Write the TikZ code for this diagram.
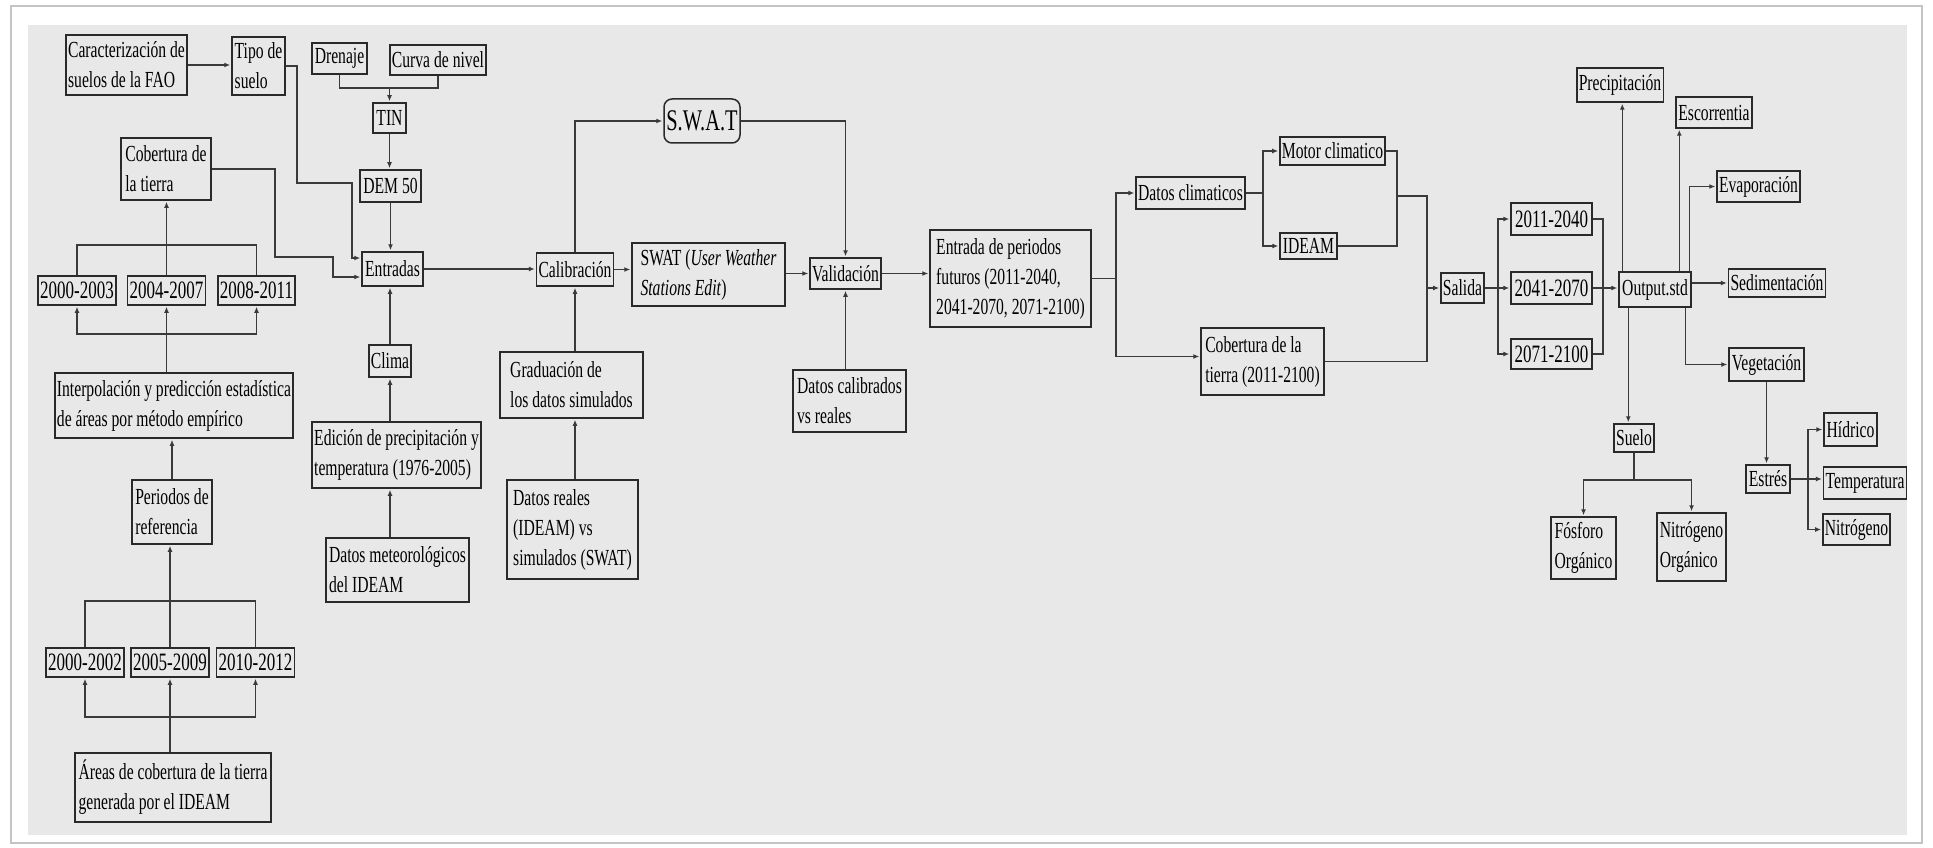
\documentclass[tikz,border=0pt]{standalone}
\usepackage{fontspec}
\setmainfont{Liberation Serif}[FakeStretch=0.68]
\usepackage{tikz}
\usetikzlibrary{arrows.meta,positioning,calc}
\definecolor{panel}{HTML}{E8E8E8}
\definecolor{ink}{HTML}{2A2A2A}
\definecolor{wire}{HTML}{3A3A3A}
\definecolor{rim}{HTML}{C4C4C4}
\tikzset{
  box/.style={draw=ink,line width=1.5pt,inner sep=2pt,align=left,
              font=\fontsize{23}{30}\selectfont},
  yr/.style={box,font=\fontsize{25}{28}\selectfont},
  sz/.style 2 args={minimum width=#1pt,minimum height=#2pt},
  ln/.style={wire,line width=1.2pt},
  arr/.style={ln,-{Latex[length=6pt,width=5pt]},shorten >=1pt}
}

\begin{document}
\begin{tikzpicture}[x=1pt,y=-1pt]
  \useasboundingbox (0,0) rectangle (1933,848);
  \fill[white] (0,0) rectangle (1933,848);
  \draw[rim,line width=1.6pt] (11,6) rectangle (1922,843);
  \fill[panel] (28,25) rectangle (1907,835);

  \node[box,sz={121}{60}] (cara) at (126.5,65) {Caracterización de\\suelos de la FAO};
  \node[box,sz={53}{58}] (tipo) at (258.5,66) {Tipo de\\suelo};
  \node[box,sz={55}{31}] (dren) at (339.5,58.5) {Drenaje};
  \node[box,sz={96}{30}] (curva) at (438,60) {Curva de nivel};
  \node[box,sz={33}{30}] (tin) at (389.5,118) {TIN};
  \node[box,sz={61}{32}] (dem) at (390.5,186) {DEM 50};
  \node[box,sz={61}{34}] (entr) at (392.5,269) {Entradas};
  \node[box,sz={90}{62}] (cobt) at (166,169) {Cobertura de\\la tierra};
  \node[yr,sz={78}{29}] (p1) at (77,290.5) {2000-2003};
  \node[yr,sz={77}{29}] (p2) at (166.5,290.5) {2004-2007};
  \node[yr,sz={77}{29}] (p3) at (256.5,290.5) {2008-2011};
  \node[box,sz={234}{65}] (interp) at (174,405.5) {Interpolación y predicción estadística\\de áreas por método empírico};
  \node[box,sz={80}{64}] (peri) at (172,512) {Periodos de\\referencia};
  \node[yr,sz={76}{29}] (q1) at (85,662.5) {2000-2002};
  \node[yr,sz={76}{29}] (q2) at (170,662.5) {2005-2009};
  \node[yr,sz={77}{29}] (q3) at (255.5,662.5) {2010-2012};
  \node[box,sz={196}{69}] (areas) at (173,787.5) {Áreas de cobertura de la tierra\\generada por el IDEAM};
  \node[box,sz={42}{32}] (clima) at (390,361) {Clima};
  \node[box,sz={169}{66}] (edic) at (396.5,455) {Edición de precipitación y\\temperatura (1976-2005)};
  \node[box,sz={143}{64}] (meteo) at (397.5,570) {Datos meteorológicos\\del IDEAM};

  \node[box,sz={76}{33}] (cal) at (575,269.5) {Calibración};
  \node[box,sz={153}{63}] (swatu) at (708.5,274.5) {SWAT (\textit{User Weather}\\\textit{Stations Edit})};
  \node[box,sz={76}{44},rounded corners=8pt,font=\fontsize{30}{32}\selectfont] (swat) at (702,121) {S.W.A.T};
  \node[box,sz={143}{66}] (grad) at (571.5,385) {Graduación de\\los datos simulados};
  \node[box,sz={131}{99}] (reales) at (572.5,529.5) {Datos reales\\(IDEAM) vs\\simulados (SWAT)};
  \node[box,sz={71}{31}] (valid) at (845.5,273.5) {Validación};
  \node[box,sz={113}{62}] (calib) at (849.5,401) {Datos calibrados\\vs reales};
  \node[box,sz={161}{97}] (fut) at (1010.5,278.5) {Entrada de periodos\\futuros (2011-2040,\\2041-2070, 2071-2100)};
  \node[box,sz={109}{32}] (dclim) at (1190.5,193) {Datos climaticos};
  \node[box,sz={105}{28}] (motor) at (1332.5,151) {Motor climatico};
  \node[box,sz={57}{26}] (ideam) at (1308.5,246) {IDEAM};
  \node[box,sz={123}{67}] (cobf) at (1262.5,361.5) {Cobertura de la\\tierra (2011-2100)};

  \node[box,sz={43}{30}] (sal) at (1462.5,288) {Salida};
  \node[yr,sz={81}{32}] (f1) at (1551.5,219) {2011-2040};
  \node[yr,sz={81}{32}] (f2) at (1551.5,288) {2041-2070};
  \node[yr,sz={81}{30}] (f3) at (1551.5,354) {2071-2100};
  \node[box,sz={72}{35}] (outp) at (1655,289.5) {Output.std};
  \node[box,sz={84}{34}] (prec) at (1620,85) {Precipitación};
  \node[box,sz={76}{31}] (esco) at (1714,112.5) {Escorrentia};
  \node[box,sz={81}{31}] (evap) at (1758.5,186.5) {Evaporación};
  \node[box,sz={94}{28}] (sedi) at (1777,283) {Sedimentación};
  \node[box,sz={75}{33}] (vege) at (1766.5,364.5) {Vegetación};
  \node[box,sz={40}{28}] (suelo) at (1634,438) {Suelo};
  \node[box,sz={65}{62}] (fosf) at (1583.5,548) {Fósforo\\Orgánico};
  \node[box,sz={69}{68}] (nitro) at (1691.5,547) {Nitrógeno\\Orgánico};
  \node[box,sz={44}{28}] (estr) at (1768,479) {Estrés};
  \node[box,sz={53}{33}] (hidr) at (1850.5,429.5) {Hídrico};
  \node[box,sz={82}{32}] (temp) at (1865,483) {Temperatura};
  \node[box,sz={65}{31}] (nitg) at (1856.5,529.5) {Nitrógeno};

  \coordinate (barT) at (389.5,88);
  \coordinate (barA) at (166.5,245);
  \coordinate (barB) at (166.5,334);
  \coordinate (barC) at (170,601);
  \coordinate (barD) at (170,717);
  \draw[arr] (cara.east) -- (cara.east -| tipo.west);
  \draw[arr] (tipo.east) -| (297,183) -| (352,258) -- ([yshift=11pt]entr.west);
  \draw[arr] (cobt.east) -| (275,257) -| (333,277) -- ([yshift=-8pt]entr.west);
  \draw[ln] (dren.south) |- (barT) -| (curva.south);
  \draw[arr] (barT) -- (tin.north);
  \draw[arr] (tin.south) -- (tin.south |- dem.north);
  \draw[arr] (dem.south) -- (dem.south |- entr.north);
  \draw[arr] (clima.north) -- (clima.north |- entr.south);
  \draw[arr] (edic.north -| clima) -- (clima.south);
  \draw[arr] (meteo.north -| clima) -- (edic.south -| clima);
  \draw[ln] (p1.north) |- (barA) -| (p3.north);
  \draw[arr] (p2.north) -- (p2.north |- cobt.south);
  \draw[arr] (barB) -| (p1.south);
  \draw[arr] (barB) -| (p3.south);
  \draw[arr] (interp.north -| p2) -- (p2.south);
  \draw[arr] (peri.north) -- (peri.north |- interp.south);
  \draw[ln] (q1.north) |- (barC) -| (q3.north);
  \draw[arr] (q2.north) -- (q2.north |- peri.south);
  \draw[arr] (barD) -| (q1.south);
  \draw[arr] (barD) -| (q3.south);
  \draw[arr] (areas.north -| q2) -- (q2.south);

  \draw[arr] (entr.east) -- (entr.east -| cal.west);
  \draw[arr] (cal.east) -- (cal.east -| swatu.west);
  \draw[arr] (cal.north) |- (swat.west);
  \draw[arr] (swat.east) -| (valid.north);
  \draw[arr] (swatu.east |- valid.west) -- (valid.west);
  \draw[arr] (grad.north -| cal) -- (cal.south);
  \draw[arr] (reales.north -| cal) -- (grad.south -| cal);
  \draw[arr] (calib.north -| valid) -- (valid.south);
  \draw[arr] (valid.east) -- (valid.east -| fut.west);

  \coordinate (j1) at (1116,278.5);
  \coordinate (j2) at (1263,193);
  \coordinate (j3) at (1397,196);
  \coordinate (j4) at (1427,196);
  \draw[ln] (fut.east) -- (j1);
  \draw[arr] (j1) |- (dclim.west);
  \draw[arr] (j1) |- ([yshift=5pt]cobf.west);
  \draw[ln] (dclim.east) -- (j2);
  \draw[arr] (j2) |- (motor.west);
  \draw[arr] (j2) |- (ideam.west);
  \draw[ln] (motor.east) -| (j3) |- (ideam.east);
  \draw[ln] (j3) -- (j4) |- (cobf.east);
  \draw[arr] (j4 |- sal.west) -- (sal.west);

  \coordinate (j5) at (1498,288);
  \coordinate (j6) at (1603,288);
  \draw[ln] (sal.east) -- (j5);
  \draw[arr] (j5) |- (f1.west);
  \draw[arr] (j5) -- (f2.west);
  \draw[arr] (j5) |- (f3.west);
  \draw[ln] (f1.east) -| (j6) |- (f3.east);
  \draw[arr] (f2.east) -- (f2.east -| outp.west);

  \coordinate (precA) at ($(outp.north west)+(4,0)$);
  \coordinate (escA) at ($(esco.south west)+(4,0)$);
  \coordinate (evaA) at ($(outp.north east)+(-2,0)$);
  \coordinate (vegA) at ($(outp.south east)+(-6,0)$);
  \coordinate (sueA) at ($(outp.south west)+(10,0)$);
  \draw[arr] (precA) -- (precA |- prec.south);
  \draw[arr] (escA |- outp.north) -- (escA);
  \draw[arr] (evaA) |- (evap.west);
  \draw[arr] (outp.east |- sedi.west) -- (sedi.west);
  \draw[arr] (vegA) |- (vege.west);
  \draw[arr] (sueA) -- (sueA |- suelo.north);

  \coordinate (j7) at (1634,480);
  \coordinate (j8) at (1808,479);
  \draw[ln] (suelo.south) -- (j7);
  \draw[arr] (j7) -| (fosf.north);
  \draw[arr] (j7) -| (nitro.north);
  \draw[arr] (vege.south) -- (vege.south |- estr.north);
  \draw[ln] (estr.east) -- (j8);
  \draw[arr] (j8) |- (hidr.west);
  \draw[arr] (j8) -- (j8 -| temp.west);
  \draw[arr] (j8) |- (nitg.west);
\end{tikzpicture}
\end{document}
